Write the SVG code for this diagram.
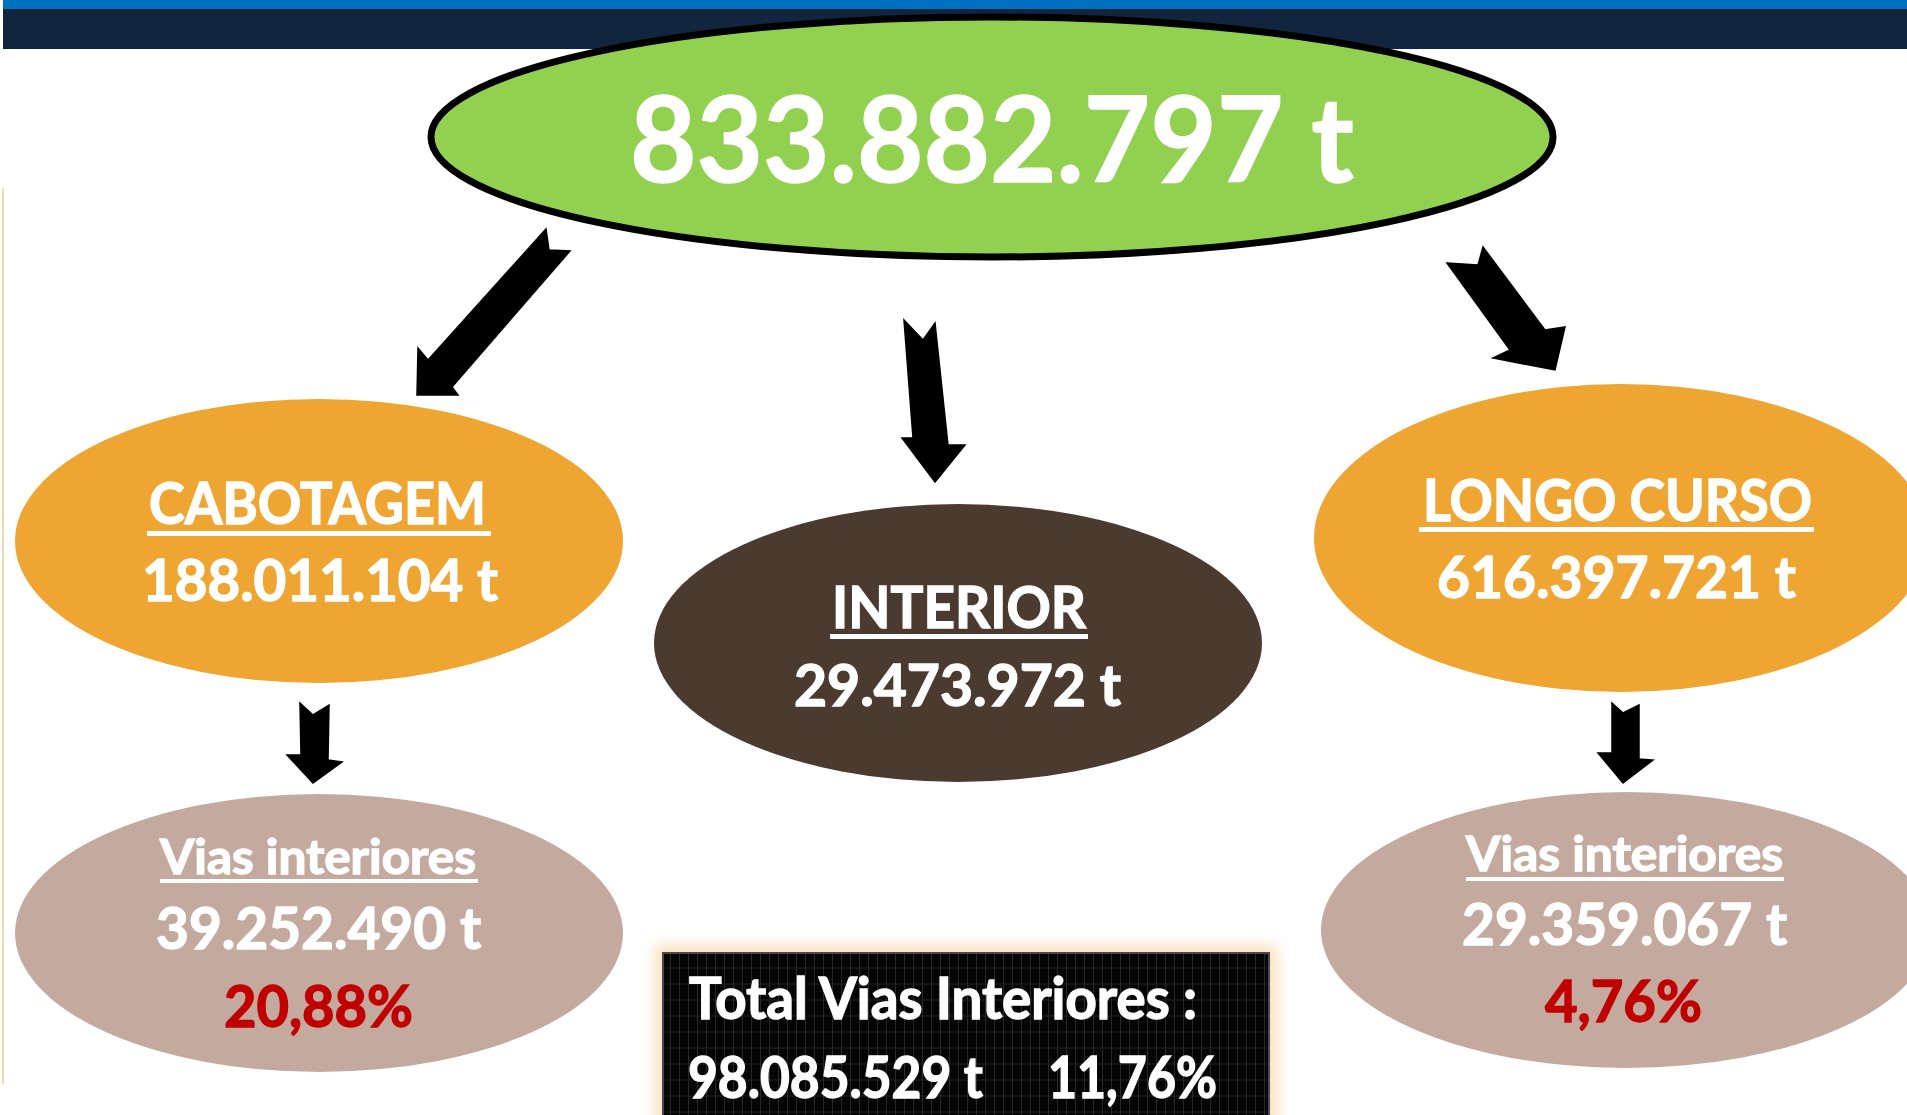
<svg xmlns="http://www.w3.org/2000/svg" width="1907" height="1115" viewBox="0 0 1907 1115">
  <style>
    .t { font-family: Lato, "Open Sans", "Liberation Sans", sans-serif; font-weight: bold; fill: #ffffff; stroke: #ffffff; stroke-width: 1.4; }
    .red { fill: #C00000; stroke: #C00000; }
    .ul { fill: #ffffff; }
    .arrow { fill: #000000; stroke: #000000; stroke-width: 1.5; stroke-linejoin: miter; }
  </style>
  <defs>
    <pattern id="grid" width="9" height="16" patternUnits="userSpaceOnUse">
      <rect width="9" height="16" fill="#050505"/>
      <line x1="4.5" y1="0" x2="4.5" y2="16" stroke="#2a2a2a" stroke-width="1"/>
      <line x1="0" y1="8" x2="9" y2="8" stroke="#222222" stroke-width="1"/>
    </pattern>
    <filter id="glow" x="-10%" y="-30%" width="120%" height="160%">
      <feGaussianBlur stdDeviation="7"/>
    </filter>
  </defs>
  <rect width="1907" height="1115" fill="#ffffff"/>

  <rect x="3" y="0" width="1904" height="10" fill="#0070C0"/>
  <rect x="3" y="9" width="1904" height="40" fill="#12253F"/>
  <line x1="3" y1="188" x2="3" y2="1084" stroke="#E9DDB4" stroke-width="2"/>

  <g id="total">
    <ellipse cx="992" cy="137" rx="561" ry="120" fill="#92D050" stroke="#000000" stroke-width="7"/>
    <text class="t" x="630" y="182" font-size="119" textLength="724" lengthAdjust="spacingAndGlyphs">833.882.797 t</text>
  </g>

  <g id="cabotagem">
    <ellipse cx="319" cy="541" rx="304" ry="142" fill="#EFA531"/>
    <text class="t" x="149" y="524" font-size="57" textLength="337" lengthAdjust="spacingAndGlyphs">CABOTAGEM</text>
    <rect class="ul" x="147" y="531" width="344" height="5"/>
    <text class="t" x="142" y="601" font-size="57" textLength="356" lengthAdjust="spacingAndGlyphs">188.011.104 t</text>
  </g>

  <g id="interior">
    <ellipse cx="958" cy="643" rx="304" ry="139" fill="#4B3A2F"/>
    <text class="t" x="832" y="628" font-size="58" textLength="254" lengthAdjust="spacingAndGlyphs">INTERIOR</text>
    <rect class="ul" x="830" y="634" width="258" height="5"/>
    <text class="t" x="794" y="706" font-size="57" textLength="327" lengthAdjust="spacingAndGlyphs">29.473.972 t</text>
  </g>

  <g id="longo-curso">
    <ellipse cx="1621" cy="538" rx="307" ry="154" fill="#EFA531"/>
    <text class="t" x="1423" y="521" font-size="57" textLength="389" lengthAdjust="spacingAndGlyphs">LONGO CURSO</text>
    <rect class="ul" x="1419" y="527" width="395" height="5"/>
    <text class="t" x="1437" y="598" font-size="57" textLength="359" lengthAdjust="spacingAndGlyphs">616.397.721 t</text>
  </g>

  <g id="vias-cabotagem">
    <ellipse cx="319" cy="933" rx="304" ry="139" fill="#C4AA9E"/>
    <text class="t" x="160" y="874" font-size="47" textLength="316" lengthAdjust="spacingAndGlyphs">Vias interiores</text>
    <rect class="ul" x="160" y="879" width="318" height="4"/>
    <text class="t" x="156" y="949" font-size="57" textLength="325" lengthAdjust="spacingAndGlyphs">39.252.490 t</text>
    <text class="t red" x="224" y="1027" font-size="58" textLength="189" lengthAdjust="spacingAndGlyphs">20,88%</text>
  </g>

  <g id="vias-longo-curso">
    <ellipse cx="1626" cy="930" rx="305" ry="138" fill="#C4AA9E"/>
    <text class="t" x="1466" y="871" font-size="47" textLength="317" lengthAdjust="spacingAndGlyphs">Vias interiores</text>
    <rect class="ul" x="1466" y="877" width="318" height="4"/>
    <text class="t" x="1462" y="945" font-size="57" textLength="325" lengthAdjust="spacingAndGlyphs">29.359.067 t</text>
    <text class="t red" x="1545" y="1022" font-size="58" textLength="157" lengthAdjust="spacingAndGlyphs">4,76%</text>
  </g>

  <g id="total-vias">
    <rect x="655" y="945" width="622" height="190" fill="#F6C489" opacity="0.55" filter="url(#glow)"/>
    <rect x="663" y="953" width="606" height="175" fill="url(#grid)" stroke="#4a4a4a" stroke-width="2"/>
    <text class="t" x="689" y="1019" font-size="58" textLength="508" lengthAdjust="spacingAndGlyphs">Total Vias Interiores :</text>
    <text class="t" x="688" y="1098" font-size="58" textLength="295" lengthAdjust="spacingAndGlyphs">98.085.529 t</text>
    <text class="t" x="1048" y="1098" font-size="58" textLength="169" lengthAdjust="spacingAndGlyphs">11,76%</text>
  </g>

  <g id="connectors">
    <polygon class="arrow" points="546,229 549,250 570,251 452,387 458,395 417,395 418,348 428,360"/>
    <polygon class="arrow" points="904,320 923,340 935,323 948,445 965,445 935,482 902,438 913,438"/>
    <polygon class="arrow" points="1447,263 1478,265 1483,247 1545,330 1565,327 1555,370 1493,358 1510,350"/>
    <polygon class="arrow" points="300,703 313,715 329,705 328,760 342,762 313,783 287,755 301,755"/>
    <polygon class="arrow" points="1612,703 1623,713 1639,705 1639,759 1653,760 1623,783 1598,753 1612,753"/>
  </g>
</svg>
